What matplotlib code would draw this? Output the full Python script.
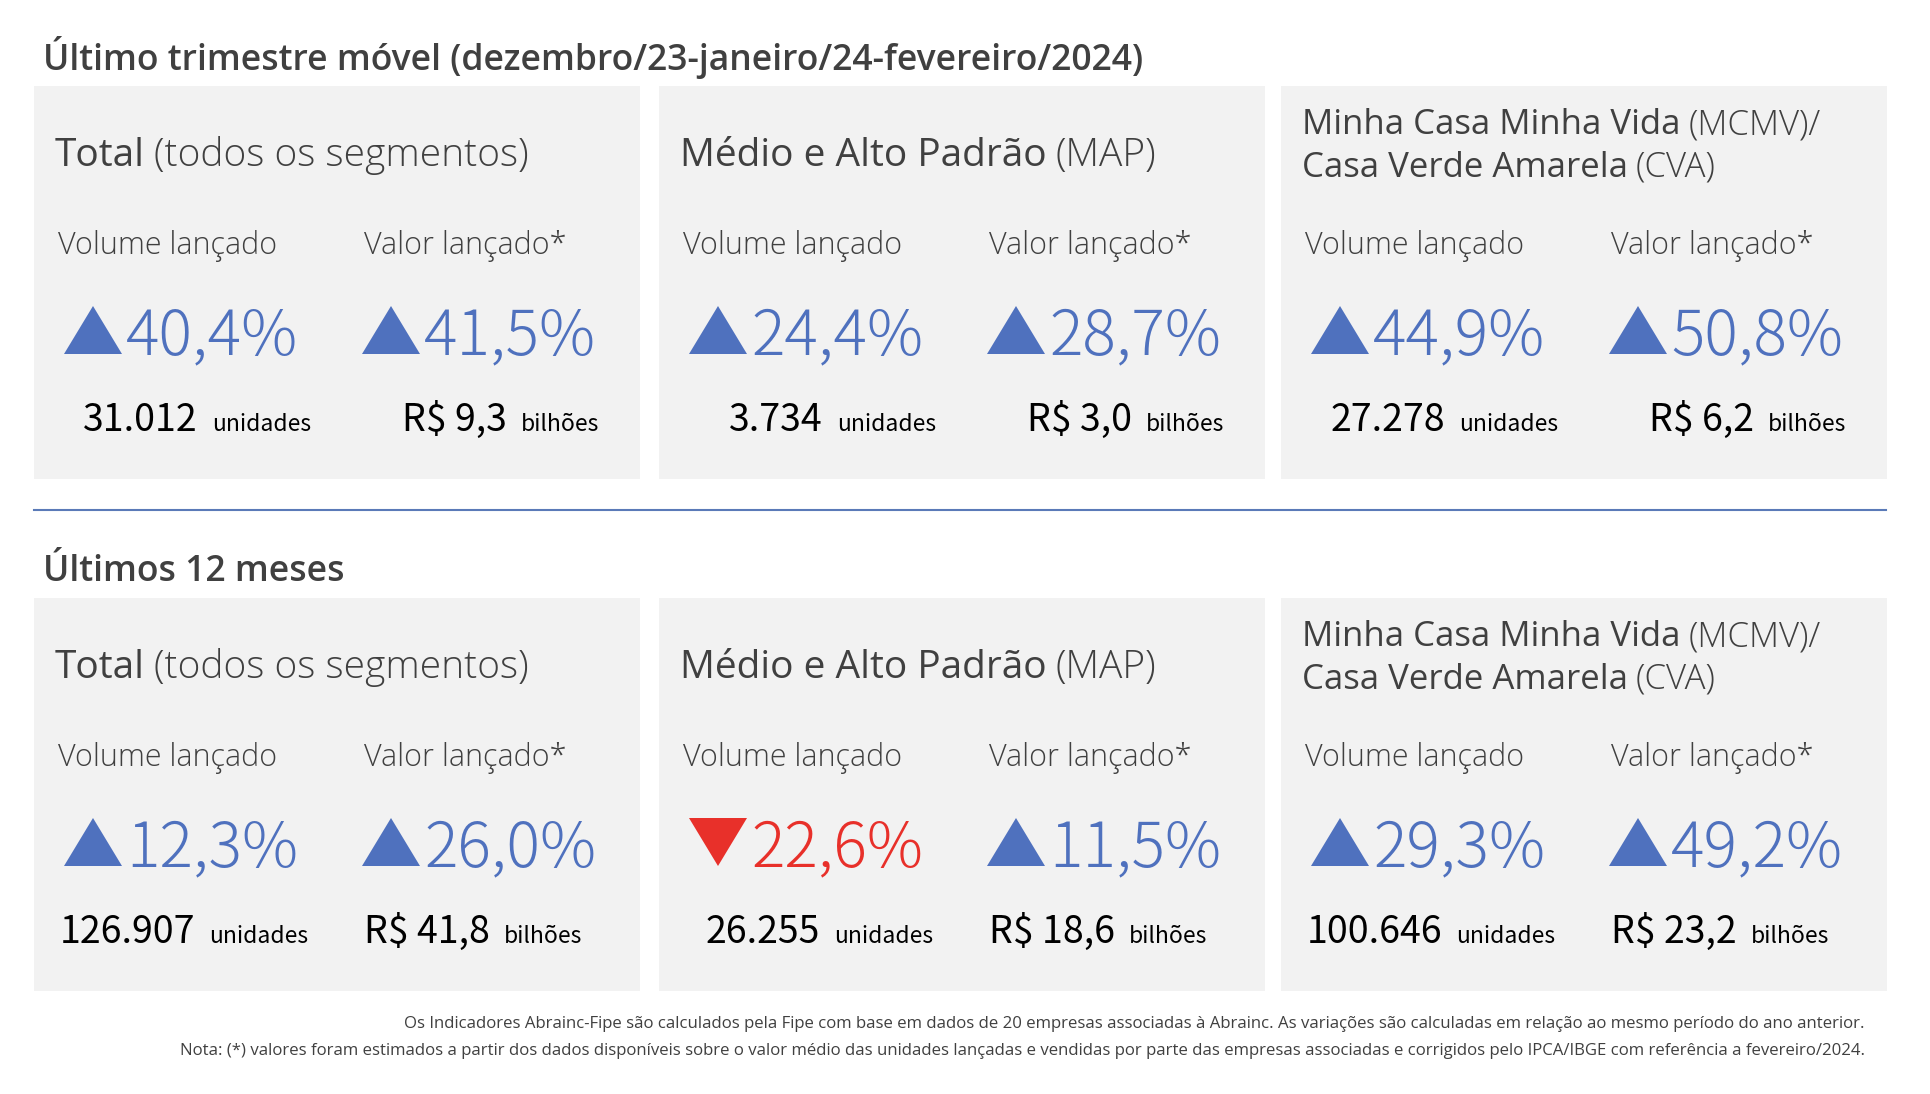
import matplotlib
matplotlib.use("Agg")
import matplotlib.pyplot as plt
from matplotlib.patches import Rectangle, Polygon

# Data
periods = ["Último trimestre móvel (dezembro/23-janeiro/24-fevereiro/2024)",
           "Últimos 12 meses"]
segments = [
    [("Total", "(todos os segmentos)")],
    [("Médio e Alto Padrão", "(MAP)")],
    [("Minha Casa Minha Vida", "(MCMV)/"), ("Casa Verde Amarela", "(CVA)")],
]
metric_labels = ["Volume lançado", "Valor lançado*"]
vol_change = [[40.4, 24.4, 44.9], [12.3, -22.6, 29.3]]
val_change = [[41.5, 28.7, 50.8], [26.0, 11.5, 49.2]]
units = [[31012, 3734, 27278], [126907, 26255, 100646]]
value_bi = [[9.3, 3.0, 6.2], [41.8, 18.6, 23.2]]
notes = [
    "Os Indicadores Abrainc-Fipe são calculados pela Fipe com base em dados de 20 empresas associadas à Abrainc. "
    "As variações são calculadas em relação ao mesmo período do ano anterior.",
    "Nota: (*) valores foram estimados a partir dos dados disponíveis sobre o valor médio das unidades lançadas "
    "e vendidas por parte das empresas associadas e corrigidos pelo IPCA/IBGE com referência a fevereiro/2024.",
]

W, H = 1930, 1094
DARK = "#404040"
BLUE = "#4F71BE"
RED = "#E8302A"
PANEL = "#F2F2F2"
SANS = "Open Sans"
CJK = ["Noto Sans CJK JP", "DejaVu Sans"]

fig = plt.figure(figsize=(W / 100, H / 100), dpi=100)
ax = fig.add_axes([0, 0, 1, 1])
ax.set_xlim(0, W)
ax.set_ylim(H, 0)
ax.axis("off")
renderer = fig.canvas.get_renderer()


def width(t):
    return t.get_window_extent(renderer).width


def br_num(x, dec=1):
    s = f"{x:,.{dec}f}"
    return s.replace(",", "X").replace(".", ",").replace("X", ".")


def pct(ax, x, y, change):
    # triangle + percentage, y is the baseline
    tw, th = 58, 48
    col = BLUE if change >= 0 else RED
    if change >= 0:
        pts = [(x, y), (x + tw, y), (x + tw / 2, y - th)]
    else:
        pts = [(x, y - th), (x + tw, y - th), (x + tw / 2, y)]
    ax.add_patch(Polygon(pts, closed=True, color=col, lw=0))
    ax.text(x + tw + 4, y, br_num(abs(change)) + "%", color=col, fontsize=45,
            family=CJK, weight="light", va="baseline", ha="left")


def value(ax, xr, y, num, unit):
    t = ax.text(xr, y, unit, fontsize=16.5, family=CJK, color="black",
                va="baseline", ha="right")
    ax.text(xr - width(t) - 14, y, num, fontsize=27, family=CJK, color="black",
            va="baseline", ha="right")


panel_x = [34, 659, 1281]
panel_w = 606
row_y = [86, 598]
panel_h = 393
title_y = [70, 581]
value_right = [(277, 565), (274, 548)]

for r in range(2):
    ax.text(43, title_y[r], periods[r], fontsize=25.6, family=SANS, weight="semibold",
            color=DARK, va="baseline")
    top = row_y[r]
    for c in range(3):
        x0 = panel_x[c]
        ax.add_patch(Rectangle((x0, top), panel_w, panel_h, color=PANEL, lw=0))
        lines = segments[c]
        if len(lines) == 1:
            ys, fs = [80], 28
        else:
            ys, fs = [48, 91], 25
        for (main, sub), dy in zip(lines, ys):
            t = ax.text(x0 + 21, top + dy, main, fontsize=fs, family=SANS,
                        color=DARK, va="baseline")
            ax.text(x0 + 21 + width(t) + fs * 0.32, top + dy, sub, fontsize=fs,
                    family=SANS, weight="light", color=DARK, va="baseline")
        ax.text(x0 + 24, top + 168, metric_labels[0], fontsize=22, family=SANS,
                weight="light", color=DARK, va="baseline")
        ax.text(x0 + 330, top + 168, metric_labels[1], fontsize=22, family=SANS,
                weight="light", color=DARK, va="baseline")
        pct(ax, x0 + 30, top + 268, vol_change[r][c])
        pct(ax, x0 + 328, top + 268, val_change[r][c])
        value(ax, x0 + value_right[r][0], top + 345, br_num(units[r][c], 0), "unidades")
        value(ax, x0 + value_right[r][1], top + 345, "R$ " + br_num(value_bi[r][c]), "bilhões")

ax.plot([34, 1886], [510, 510], color="#5A7AB8", lw=1.5)

for i, note in enumerate(notes):
    ax.text(1865, 1028 + 27 * i, note, fontsize=12.1, family=SANS, color=DARK,
            va="baseline", ha="right")

fig.savefig("out.png", dpi=100, facecolor="white")
